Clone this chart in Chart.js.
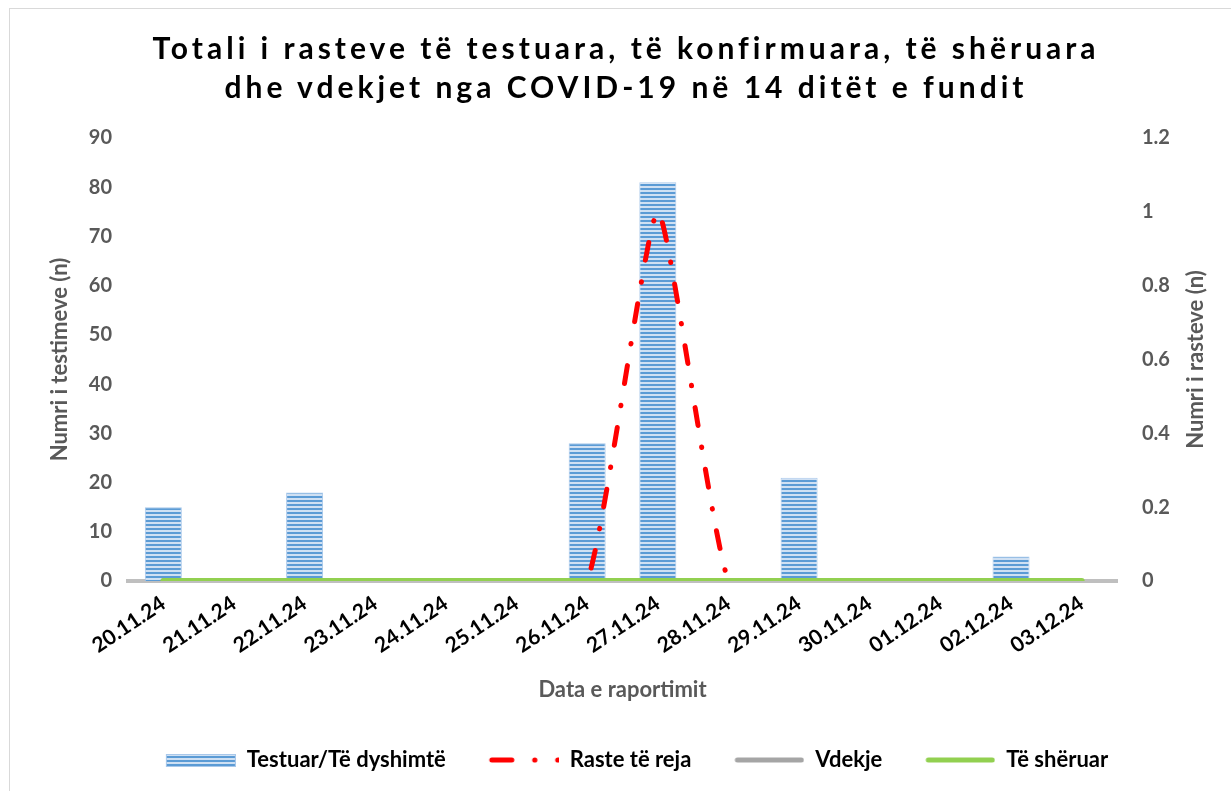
<!DOCTYPE html>
<html lang="sq">
<head>
<meta charset="UTF-8">
<title>COVID-19 - 14 ditët e fundit</title>
<script src="https://cdn.jsdelivr.net/npm/chart.js@4.4.0/dist/chart.umd.min.js"></script>
<style>
  body { margin: 0; background: #fff; }
  .wrap { position: relative; width: 1231px; height: 791px; overflow: hidden; }
  .frame { position: absolute; left: 9px; top: 8px; width: 1240px; height: 800px; border: 1px solid #d9d9d9; }
  .title { position: absolute; left: 0; top: 28px; width: 1252px; text-align: center;
           font-family: Lato, sans-serif; font-weight: bold; font-size: 30px;
           letter-spacing: 4px; line-height: 39px; color: #000; }
  #chart { position: absolute; left: 0; top: 0; }
</style>
</head>
<body>
<div class="wrap">
  <div class="frame"></div>
  <canvas id="chart" width="1231" height="791"></canvas>
  <div class="title">Totali i rasteve të testuara, të konfirmuara, të shëruara<br>dhe vdekjet nga COVID-19 në 14 ditët e fundit</div>
</div>
<script>
// data
var dates = ['20.11.24', '21.11.24', '22.11.24', '23.11.24', '24.11.24', '25.11.24', '26.11.24',
             '27.11.24', '28.11.24', '29.11.24', '30.11.24', '01.12.24', '02.12.24', '03.12.24'];
var testuar   = [15, 0, 18, 0, 0, 0, 28, 81, 0, 21, 0, 0, 5, 0];
var rasteReja = [0, 0, 0, 0, 0, 0, 0, 1, 0, 0, 0, 0, 0, 0];
var vdekje    = [0, 0, 0, 0, 0, 0, 0, 0, 0, 0, 0, 0, 0, 0];
var sheruar   = [0, 0, 0, 0, 0, 0, 0, 0, 0, 0, 0, 0, 0, 0];
var leftMax = 90, leftStep = 10;
var rightMax = 1.2, rightStep = 0.2;

var GRAY_TXT = '#595959';
var TICK_FONT = { family: 'Lato', weight: 'bold', size: 20 };
var XTICK_FONT = { family: 'Lato', weight: 'bold', size: 21 };
var BIG_FONT = { family: 'Lato', weight: 'bold', size: 22 };

// striped fill like the excel bars
function stripes() {
  var c = document.createElement('canvas');
  c.width = 4; c.height = 4;
  var g = c.getContext('2d');
  g.fillStyle = '#cfe0f3'; g.fillRect(0, 0, 4, 4);
  g.fillStyle = '#5b9bd5'; g.fillRect(0, 0, 4, 2);
  return g.createPattern(c, 'repeat');
}
var barFill = stripes();

// legend symbols (blank space on the left acts as gap between items)
function symbol(draw) {
  var c = document.createElement('canvas');
  c.width = 103; c.height = 16;
  var g = c.getContext('2d');
  g.translate(33, 0);
  draw(g);
  return c;
}
function lineSym(color) {
  return symbol(function (g) {
    g.strokeStyle = color; g.lineWidth = 5; g.lineCap = 'round';
    g.beginPath(); g.moveTo(3, 8); g.lineTo(67, 8); g.stroke();
  });
}
var legendSyms = [
  symbol(function (g) {
    g.fillStyle = barFill; g.fillRect(0, 2, 70, 13);
    g.strokeStyle = '#a9c8ea'; g.lineWidth = 1; g.strokeRect(0.5, 2.5, 69, 12);
  }),
  symbol(function (g) {
    g.strokeStyle = '#ff0000'; g.lineWidth = 5; g.lineCap = 'round';
    g.beginPath(); g.moveTo(3, 8); g.lineTo(23, 8); g.stroke();
    g.fillStyle = '#ff0000';
    g.beginPath(); g.arc(46, 8, 2.6, 0, Math.PI * 2); g.fill();
    g.beginPath(); g.arc(69, 8, 2.6, 0, Math.PI * 2); g.fill();
  }),
  lineSym('#a5a5a5'),
  lineSym('#92d050')
];

var rightTitle = {
  id: 'rightTitle',
  afterDraw: function (chart) {
    var ctx = chart.ctx, a = chart.chartArea, s = chart.scales.y1;
    ctx.save();
    ctx.translate(s.right - 25, (a.top + a.bottom) / 2);
    ctx.rotate(-Math.PI / 2);
    ctx.font = 'bold 22px Lato';
    ctx.fillStyle = GRAY_TXT;
    ctx.textAlign = 'center';
    ctx.textBaseline = 'middle';
    ctx.fillText('Numri i rasteve (n)', 0, 0);
    ctx.restore();
  }
};

var ctx = document.getElementById('chart').getContext('2d');
var myChart = new Chart(ctx, {
  type: 'bar',
  data: {
    labels: dates,
    datasets: [{
      label: 'Testuar/Të dyshimtë',
      data: testuar,
      yAxisID: 'y',
      backgroundColor: barFill,
      borderColor: '#a9c8ea',
      borderWidth: 1,
      barPercentage: 0.524,
      categoryPercentage: 1,
      order: 4
    }, {
      type: 'line',
      label: 'Raste të reja',
      data: rasteReja,
      yAxisID: 'y1',
      borderColor: '#ff0000',
      borderWidth: 5,
      borderDash: [18, 22, 0.5, 22],
      borderCapStyle: 'round',
      tension: 0.15,
      pointRadius: 0,
      clip: { left: false, top: false, right: false, bottom: 0 },
      order: 2
    }, {
      type: 'line',
      label: 'Vdekje',
      data: vdekje,
      yAxisID: 'y1',
      borderColor: '#a5a5a5',
      borderWidth: 5,
      pointRadius: 0,
      order: 1
    }, {
      type: 'line',
      label: 'Të shëruar',
      data: sheruar,
      yAxisID: 'y1',
      borderColor: '#92d050',
      borderWidth: 6,
      borderCapStyle: 'round',
      pointRadius: 0,
      order: 0
    }]
  },
  options: {
    responsive: false,
    animation: false,
    layout: { padding: { left: 20, right: 10, top: 138, bottom: 10 } },
    plugins: {
      title: { display: false },
      tooltip: { enabled: false },
      legend: {
        position: 'bottom',
        labels: {
          usePointStyle: true,
          pointStyleWidth: 103,
          padding: 10,
          color: '#000',
          font: BIG_FONT,
          generateLabels: function (chart) {
            return chart.data.datasets.map(function (ds, i) {
              return {
                text: ds.label,
                pointStyle: legendSyms[i],
                fillStyle: 'transparent',
                strokeStyle: 'transparent',
                lineWidth: 0,
                fontColor: '#000',
                hidden: false,
                datasetIndex: i
              };
            });
          }
        }
      }
    },
    scales: {
      x: {
        grid: { display: false, drawTicks: false },
        border: { display: true, color: '#bfbfbf', width: 4 },
        ticks: { color: '#000', font: XTICK_FONT, minRotation: 34, maxRotation: 34, padding: 10, autoSkip: false },
        title: { display: true, text: 'Data e raportimit', color: GRAY_TXT, font: BIG_FONT, padding: { top: 0, bottom: 36 } },
        afterFit: function (s) { s.height = 158; }
      },
      y: {
        position: 'left',
        min: 0, max: leftMax,
        grid: { display: false, drawTicks: false },
        border: { display: false },
        ticks: { stepSize: leftStep, color: GRAY_TXT, font: TICK_FONT, padding: 16 },
        title: { display: true, text: 'Numri i testimeve (n)', color: GRAY_TXT, font: BIG_FONT, padding: { top: 27, bottom: 0 } },
        afterFit: function (s) { s.width = 108; }
      },
      y1: {
        position: 'right',
        min: 0, max: rightMax,
        grid: { display: false, drawTicks: false },
        border: { display: false },
        ticks: {
          stepSize: rightStep, color: GRAY_TXT, font: TICK_FONT, padding: 25,
          callback: function (v) { return String(Math.round(v * 10) / 10); }
        },
        afterFit: function (s) { s.width = 104; }
      }
    }
  },
  plugins: [rightTitle]
});
</script>
</body>
</html>
